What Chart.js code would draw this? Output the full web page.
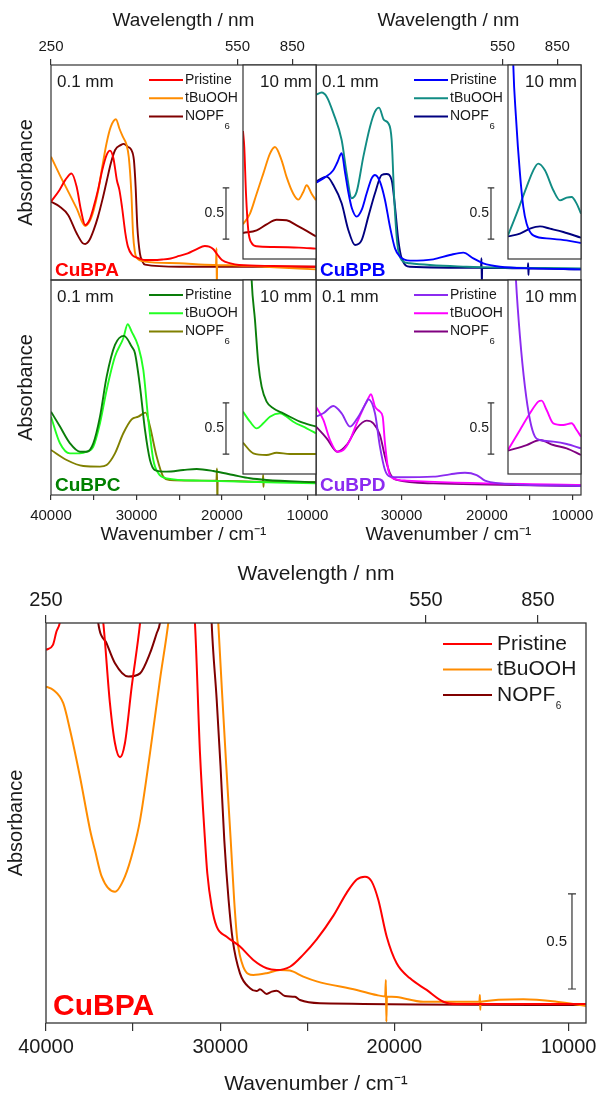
<!DOCTYPE html>
<html>
<head>
<meta charset="utf-8">
<script src="https://cdn.jsdelivr.net/npm/chart.js@4.4.1/dist/chart.umd.min.js"></script>
<style>
html,body{margin:0;padding:0;background:#fff;overflow:hidden;}
#wrap{position:relative;width:598px;height:1095px;overflow:hidden;background:#fff;}
#wrap canvas{position:absolute;}
</style>
</head>
<body>
<div id="wrap"></div>
<script>
// ---------------- DATA (wavenumber cm^-1, absorbance) ----------------
const WN_MIN = 9000, WN_MAX = 40000, INSET_WN_MAX = 17540;
const WN_TICKS = [40000, 35000, 30000, 25000, 20000, 15000, 10000];
const WN_LABELS = [40000, 30000, 20000, 10000];
const WL_LABELS_NM = [250, 550, 850];
const SERIES_NAMES = ['Pristine', 'tBuOOH', 'NOPF₆'];
const BAR_TOP = [19530, 0.40, 0.5];     // wavenumber, lower value, length
const BAR_BIG = [9805, 0.179, 0.5];

// CuBPA 0.1 mm
const A_pristine = [[40000,0.765],[39000,0.88],[38300,0.98],[37600,1.04],[37000,0.91],[36500,0.684],[36000,0.537],[35500,0.586],[35000,0.717],[34500,0.88],[34000,1.075],[33500,1.22],[33100,1.264],[32700,1.19],[32300,0.977],[32000,0.88],[31700,0.717],[31300,0.456],[31000,0.326],[30500,0.244],[30000,0.22],[29000,0.195],[28000,0.195],[27000,0.2],[26000,0.21],[25000,0.235],[24000,0.26],[23000,0.3],[22000,0.332],[21500,0.326],[21000,0.3],[20500,0.244],[20000,0.195],[19000,0.163],[18000,0.147],[14000,0.137],[9000,0.13]];
const A_tBuOOH = [[40000,1.205],[39000,1.03],[38000,0.866],[37000,0.70],[36000,0.528],[35500,0.57],[35000,0.684],[34500,0.863],[34000,1.107],[33500,1.336],[33000,1.498],[32400,1.57],[32000,1.48],[31600,1.40],[31200,1.33],[30900,1.20],[30600,0.85],[30400,0.45],[30200,0.28],[30000,0.22],[29000,0.18],[25000,0.163],[21000,0.147],[20700,0.147],[20640,0.31],[20600,-0.1],[20560,0.147],[15000,0.13],[9000,0.104]];
const A_NOPF6 = [[40000,0.765],[39000,0.717],[38000,0.635],[37000,0.456],[36300,0.36],[36000,0.352],[35500,0.39],[35000,0.489],[34500,0.619],[34000,0.78],[33500,0.96],[33000,1.14],[32500,1.27],[31800,1.32],[31500,1.33],[31000,1.30],[30600,1.27],[30300,1.17],[30100,0.91],[29900,0.52],[29600,0.26],[29300,0.18],[29000,0.15],[25000,0.13],[9000,0.13]];
// CuBPA 10 mm
const A10_pristine = [[17540,1.25],[17390,1.09],[17190,0.64],[16920,0.28],[16530,0.156],[15950,0.124],[14000,0.117],[11000,0.111],[9000,0.101]];
const A10_tBuOOH = [[17540,0.339],[16725,0.443],[15945,0.638],[15165,0.834],[14386,1.03],[13800,1.094],[13021,0.964],[12437,0.80],[11657,0.638],[11072,0.58],[10487,0.655],[10097,0.72],[9512,0.638],[9000,0.573]];
const A10_NOPF6 = [[17540,0.254],[15945,0.28],[14776,0.339],[13606,0.384],[12437,0.378],[11267,0.329],[10097,0.274],[9000,0.221]];

// CuBPB 0.1 mm
const B_pristine = [[40000,0.951],[39000,1.0],[38000,1.07],[37500,1.15],[37000,1.238],[36600,1.05],[36200,0.85],[35800,0.70],[35240,0.619],[34660,0.684],[34070,0.847],[33490,0.993],[33100,1.026],[32520,0.961],[31930,0.782],[31350,0.521],[30760,0.309],[30180,0.228],[29000,0.189],[26280,0.202],[24330,0.244],[22770,0.267],[21600,0.212],[20430,0.163],[18480,0.13],[14580,0.114],[9000,0.104]];
const B_tBuOOH = [[40000,1.808],[39340,1.831],[38750,1.79],[37970,1.63],[37000,1.368],[36410,1.042],[35830,0.798],[35240,0.863],[34460,1.205],[33680,1.498],[33100,1.645],[32630,1.684],[32050,1.563],[31540,1.531],[31150,1.368],[30840,0.782],[30490,0.358],[29980,0.195],[29000,0.163],[22380,0.13],[9000,0.114]];
const B_NOPF6 = [[40000,0.961],[38750,1.01],[37970,0.928],[37000,0.749],[36220,0.489],[35440,0.342],[34660,0.39],[33880,0.619],[33100,0.847],[32320,1.026],[31740,1.036],[31150,0.977],[30760,0.717],[30370,0.39],[29980,0.212],[29000,0.13],[20700,0.12],[20640,0.212],[20600,-0.05],[20560,0.12],[15220,0.114],[15180,0.163],[15150,0.05],[15110,0.114],[9000,0.104]];
// CuBPB 10 mm
const B10_pristine = [[17100,2.6],[16920,1.893],[16610,1.388],[16140,0.834],[15750,0.508],[15360,0.345],[14580,0.231],[12630,0.199],[10680,0.182],[9000,0.156]];
const B10_tBuOOH = [[17540,0.231],[16530,0.443],[15360,0.704],[14580,0.866],[14000,0.932],[13220,0.866],[12240,0.671],[11460,0.573],[10680,0.599],[10100,0.606],[9510,0.541],[9000,0.443]];
const B10_NOPF6 = [[17540,0.221],[16140,0.248],[14970,0.296],[13800,0.319],[12630,0.296],[11070,0.264],[9000,0.208]];

// CuBPC 0.1 mm
const C_pristine = [[40000,0.814],[38950,0.668],[37780,0.505],[36610,0.423],[35830,0.423],[35050,0.505],[34270,0.765],[33490,1.156],[32515,1.466],[31460,1.554],[30565,1.45],[30175,1.384],[29590,1.059],[29006,0.635],[28420,0.342],[27840,0.244],[26470,0.228],[24520,0.244],[22960,0.254],[21010,0.235],[18670,0.195],[16725,0.163],[14776,0.147],[9000,0.124]];
const C_tBuOOH = [[40000,0.765],[38950,0.505],[37780,0.407],[36610,0.407],[35830,0.423],[35050,0.472],[34270,0.70],[33490,1.026],[32515,1.352],[31540,1.531],[31033,1.668],[30565,1.596],[29786,1.45],[29201,1.221],[28616,0.733],[28031,0.342],[27446,0.212],[26472,0.163],[22573,0.14],[9000,0.114]];
const C_NOPF6 = [[40000,0.44],[38170,0.342],[36220,0.283],[34270,0.277],[33490,0.293],[32515,0.407],[31540,0.603],[30565,0.739],[29786,0.765],[28928,0.805],[28421,0.668],[27641,0.375],[26862,0.179],[26082,0.147],[20650,0.14],[20580,0.26],[20540,-0.1],[20500,0.14],[15220,0.13],[15180,0.195],[15150,0.08],[15110,0.13],[9000,0.124]];
// CuBPC 10 mm
const C10_pristine = [[16800,2.6],[16530,1.896],[16140,1.505],[15750,1.081],[15360,0.853],[14776,0.707],[14000,0.642],[12827,0.593],[10877,0.511],[9000,0.463]];
const C10_tBuOOH = [[17540,0.609],[16725,0.511],[15945,0.446],[15165,0.495],[14386,0.56],[13216,0.593],[12437,0.56],[11657,0.511],[10097,0.446],[9000,0.397]];
const C10_NOPF6 = [[17540,0.306],[16335,0.202],[14776,0.186],[13606,0.208],[12047,0.195],[10487,0.195],[9000,0.195]];

// CuBPD 0.1 mm
const D_pristine = [[40000,0.765],[39140,0.798],[37970,0.87],[37000,0.798],[36020,0.668],[35050,0.765],[34070,0.912],[33880,0.935],[33100,0.798],[32520,0.472],[31930,0.244],[31350,0.179],[30180,0.173],[26280,0.179],[24330,0.202],[22570,0.218],[21210,0.195],[20230,0.14],[18480,0.114],[9000,0.088]];
const D_tBuOOH = [[40000,0.863],[39140,0.733],[38360,0.537],[37500,0.423],[36800,0.44],[36020,0.537],[35240,0.70],[34460,0.847],[33880,0.945],[33570,0.984],[33100,0.863],[32520,0.814],[32200,0.765],[31930,0.505],[31540,0.244],[30960,0.163],[29400,0.14],[9000,0.098]];
const D_NOPF6 = [[40000,0.668],[38750,0.554],[37500,0.423],[36410,0.489],[35240,0.651],[34070,0.726],[33290,0.70],[32520,0.586],[31930,0.375],[31350,0.212],[30570,0.147],[26280,0.114],[9000,0.088]];
// CuBPD 10 mm
const D10_pristine = [[17000,2.6],[16610,1.896],[16140,1.342],[15560,0.853],[14970,0.528],[14390,0.365],[13800,0.332],[12240,0.316],[10680,0.293],[9000,0.251]];
const D10_tBuOOH = [[17540,0.235],[16140,0.43],[14970,0.593],[14000,0.707],[13610,0.717],[13020,0.625],[12240,0.495],[11070,0.479],[10100,0.495],[9510,0.43],[9000,0.365]];
const D10_NOPF6 = [[17540,0.228],[15360,0.283],[13800,0.332],[12240,0.283],[10680,0.251],[9000,0.186]];

// CuBPA enlarged (bottom panel)
const BIG_pristine = [[40000,1.963],[39600,1.99],[39400,2.06],[39200,2.11],[38700,2.5],[37600,2.8],[37000,2.3],[36710,2.105],[36330,1.683],[36040,1.472],[35750,1.398],[35470,1.472],[35080,1.77],[34600,2.105],[34200,2.5],[33100,2.8],[32000,2.6],[31450,2.105],[31160,1.42],[30873,0.963],[30740,0.788],[30488,0.612],[30201,0.507],[29627,0.454],[28863,0.402],[28100,0.332],[27330,0.288],[26757,0.279],[25993,0.296],[25230,0.36],[24460,0.44],[23500,0.565],[22740,0.685],[22160,0.755],[21690,0.77],[21300,0.744],[20920,0.647],[20440,0.454],[19870,0.314],[19100,0.235],[18150,0.174],[17190,0.112],[16420,0.10],[9000,0.10]];
const BIG_tBuOOH = [[40000,1.77],[39580,1.753],[39010,1.683],[38620,1.542],[38050,1.296],[37470,1.016],[37190,0.91],[36800,0.77],[36040,0.691],[35470,0.77],[34990,0.91],[34600,1.068],[34030,1.42],[33460,1.805],[32980,2.105],[32500,2.5],[31000,2.8],[30300,2.4],[30110,2.105],[29900,1.75],[29650,1.35],[29397,0.963],[29200,0.65],[29018,0.437],[28674,0.296],[28100,0.253],[27330,0.262],[26567,0.279],[26000,0.276],[25230,0.244],[24460,0.219],[22160,0.174],[21020,0.147],[20530,0.14],[20490,0.226],[20460,0.007],[20430,0.14],[19870,0.137],[18340,0.112],[15120,0.112],[15090,0.147],[15070,0.07],[15050,0.112],[12600,0.125],[10680,0.112],[9000,0.09]];
const BIG_NOPF6 = [[40000,2.8],[37500,2.6],[37000,2.105],[36520,1.998],[36040,1.893],[35280,1.823],[34600,1.84],[34030,1.946],[33650,2.05],[33460,2.105],[33000,2.5],[31000,2.8],[30600,2.4],[30490,2.105],[30200,1.70],[29980,1.35],[29765,0.963],[29520,0.65],[29283,0.437],[28863,0.261],[28289,0.183],[27907,0.168],[27715,0.177],[27330,0.153],[27040,0.165],[26757,0.17],[26280,0.142],[25706,0.138],[25419,0.121],[24271,0.104],[9000,0.095]];

// ---------------- STYLE ----------------
const FONT = "'Liberation Sans', Arial, Helvetica, sans-serif";
const INK = '#1a1a1a', AXIS = '#333333';

const TOP_PANELS = [
  {col:0,row:0,name:'CuBPA',nameColor:'#FF0000',colors:['#FF0000','#FF8C00','#800000'],main:[A_pristine,A_tBuOOH,A_NOPF6],inset:[A10_pristine,A10_tBuOOH,A10_NOPF6]},
  {col:1,row:0,name:'CuBPB',nameColor:'#0000FF',colors:['#0000FF','#118C84','#000080'],main:[B_pristine,B_tBuOOH,B_NOPF6],inset:[B10_pristine,B10_tBuOOH,B10_NOPF6]},
  {col:0,row:1,name:'CuBPC',nameColor:'#008000',colors:['#0A7D0A','#22FF22','#808000'],main:[C_pristine,C_tBuOOH,C_NOPF6],inset:[C10_pristine,C10_tBuOOH,C10_NOPF6]},
  {col:1,row:1,name:'CuBPD',nameColor:'#8B2BF0',colors:['#8B2BF0','#FF00FF','#800080'],main:[D_pristine,D_tBuOOH,D_NOPF6],inset:[D10_pristine,D10_tBuOOH,D10_NOPF6]}
];
const BIG_COLORS = ['#FF0000','#FF8C00','#800000'];

// ---------------- HELPERS ----------------
const wrap = document.getElementById('wrap');
const DECOR = new Map();

function addCanvas(l, t, w, h) {
  const c = document.createElement('canvas');
  c.width = w; c.height = h;
  c.style.left = l + 'px'; c.style.top = t + 'px';
  c.style.width = w + 'px'; c.style.height = h + 'px';
  wrap.appendChild(c);
  return c;
}

function drawLabel(c, text, x, y, size, sub) {
  const m = text.match(/^(.*?)([\u2080-\u2089]+)$/);
  c.fillStyle = INK; c.textAlign = 'left'; c.textBaseline = 'middle';
  c.font = size + 'px ' + FONT;
  if (!m) { c.fillText(text, x, y); return; }
  c.fillText(m[1], x, y);
  const w = c.measureText(m[1]).width;
  const digits = m[2].replace(/[\u2080-\u2089]/g, ch => String(ch.charCodeAt(0) - 0x2080));
  c.font = sub.size + 'px ' + FONT;
  c.fillText(digits, x + w + 0.5, y + sub.dy);
}

const decorPlugin = {
  id: 'decor',
  beforeDatasetsDraw(chart) {
    const o = DECOR.get(chart.canvas);
    if (!o || !o.bg) return;
    const a = chart.chartArea, c = chart.ctx;
    c.save(); c.fillStyle = o.bg;
    c.fillRect(a.left, a.top, a.right - a.left, a.bottom - a.top);
    c.restore();
  },
  afterDatasetsDraw(chart) {
    const o = DECOR.get(chart.canvas);
    if (!o) return;
    const a = chart.chartArea, c = chart.ctx;
    c.save();
    if (o.frame) {
      c.strokeStyle = AXIS; c.lineWidth = o.frame;
      c.strokeRect(a.left, a.top, a.right - a.left, a.bottom - a.top);
    }
    (o.texts || []).forEach(t => {
      c.font = (t.bold ? 'bold ' : '') + t.size + 'px ' + FONT;
      c.fillStyle = t.color || INK;
      c.textAlign = t.align || 'left';
      c.textBaseline = 'alphabetic';
      const x = t.fromRight ? a.right - t.dx : a.left + t.dx;
      const y = t.fromBottom ? a.bottom - t.dy : a.top + t.dy;
      c.fillText(t.text, x, y);
    });
    if (o.legend) {
      const L = o.legend;
      chart.data.datasets.forEach((ds, i) => {
        const y = a.top + L.y0 + i * L.dy;
        const x0 = L.fromRight ? a.right - L.x0 : a.left + L.x0;
        c.strokeStyle = ds.borderColor; c.lineWidth = L.lw;
        c.beginPath(); c.moveTo(x0, y); c.lineTo(x0 + L.len, y); c.stroke();
        drawLabel(c, ds.label, x0 + L.len + L.gap, y, L.size, L.sub);
      });
    }
    if (o.bar) {
      const B = o.bar, xs = chart.scales.x, ys = chart.scales.y;
      const x = xs.getPixelForValue(B.wn);
      const y1 = ys.getPixelForValue(B.low), y2 = ys.getPixelForValue(B.low + B.len);
      c.strokeStyle = AXIS; c.lineWidth = 1.2;
      c.beginPath();
      c.moveTo(x, y1); c.lineTo(x, y2);
      c.moveTo(x - B.cap, y1); c.lineTo(x + B.cap, y1);
      c.moveTo(x - B.cap, y2); c.lineTo(x + B.cap, y2);
      c.stroke();
      c.font = B.size + 'px ' + FONT; c.fillStyle = INK;
      c.textAlign = 'right'; c.textBaseline = 'middle';
      c.fillText(String(B.len), x - B.gap, (y1 + y2) / 2);
    }
    c.restore();
  }
};
Chart.register(decorPlugin);

function makeDatasets(series, colors, lw) {
  return series.map((pts, i) => ({
    label: SERIES_NAMES[i],
    data: pts.map(p => ({x: p[0], y: p[1]})),
    borderColor: colors[i], backgroundColor: colors[i],
    borderWidth: lw, pointRadius: 0, fill: false,
    cubicInterpolationMode: 'monotone', borderJoinStyle: 'round', clip: 0
  }));
}

function bottomAxis(o) {
  return {
    type: 'linear', axis: 'x', position: 'bottom', reverse: true, min: WN_MIN, max: WN_MAX, display: true,
    afterBuildTicks: ax => { ax.ticks = o.ticks.map(v => ({value: v})); },
    afterFit: ax => { ax.height = o.height; },
    ticks: {autoSkip: false, maxRotation: 0, minRotation: 0, padding: o.pad, color: INK,
      font: {family: FONT, size: o.fs}, callback: v => (WN_LABELS.includes(v) ? String(v) : '')},
    grid: {display: true, drawOnChartArea: false, drawTicks: true, tickLength: o.tl, color: AXIS, lineWidth: 1.2},
    border: {display: false},
    title: {display: true, text: 'Wavenumber / cm\u207B\u00B9', color: INK,
      font: {family: FONT, size: o.titleSize}, padding: {top: 0, bottom: o.titlePad}}
  };
}
function topAxis(o) {
  return {
    type: 'linear', axis: 'x', position: 'top', reverse: true, min: WN_MIN, max: WN_MAX, display: true,
    afterBuildTicks: ax => { ax.ticks = o.nm.map(nm => ({value: 1e7 / nm})); },
    afterFit: ax => { ax.height = o.height; },
    ticks: {autoSkip: false, maxRotation: 0, minRotation: 0, padding: o.pad, color: INK,
      font: {family: FONT, size: o.fs}, callback: v => String(Math.round(1e7 / v))},
    grid: {display: true, drawOnChartArea: false, drawTicks: true, tickLength: o.tl, color: AXIS, lineWidth: 1.2},
    border: {display: false},
    title: {display: true, text: 'Wavelength / nm', color: INK,
      font: {family: FONT, size: o.titleSize}, padding: {top: o.titlePad, bottom: 0}}
  };
}
function hiddenX(max) { return {type: 'linear', axis: 'x', reverse: true, min: WN_MIN, max: max, display: false}; }
function yAxis(max, title) {
  if (!title) return {type: 'linear', min: 0, max: max, display: false};
  return {
    type: 'linear', position: 'left', min: 0, max: max, display: true,
    afterFit: ax => { ax.width = title.width; },
    ticks: {display: false}, grid: {display: false}, border: {display: false},
    title: {display: true, text: 'Absorbance', color: INK, font: {family: FONT, size: title.size},
      padding: {top: title.pad, bottom: 0}}
  };
}

function makeChart(canvas, datasets, scales, padding, decor) {
  DECOR.set(canvas, decor);
  return new Chart(canvas, {
    type: 'line',
    data: {datasets},
    options: {
      responsive: false, maintainAspectRatio: false, devicePixelRatio: 1, animation: false, events: [],
      layout: {padding},
      scales,
      plugins: {legend: {display: false}, tooltip: {enabled: false}, title: {display: false}}
    }
  });
}

// ---------------- TOP 2x2 PANELS ----------------
const COL_LEFT = [51, 316], ROW_TOP = [65, 280], PANEL_W = 265, PANEL_H = 215, INSET_W = 73, INSET_H = 194;
const TOP_Y_MAX = 2.1, INSET_Y_MAX = 1.895;

TOP_PANELS.forEach(p => {
  const areaL = COL_LEFT[p.col], areaT = ROW_TOP[p.row];
  const yW = p.col === 0 ? 51 : 0, padL = p.col === 0 ? 0 : 10, padR = 25;
  const topH = p.row === 0 ? 65 : 0, padT = p.row === 0 ? 0 : 10;
  const botH = p.row === 1 ? 52 : 0, padB = p.row === 1 ? 0 : 10;
  const cv = addCanvas(areaL - yW - padL, areaT - topH - padT, padL + yW + PANEL_W + padR, padT + topH + PANEL_H + botH + padB);
  const scales = {
    x: p.row === 1
      ? bottomAxis({ticks: p.col === 0 ? WN_TICKS : WN_TICKS.slice(1), fs: 15, tl: 5, pad: 7, height: 52, titleSize: 19, titlePad: 1})
      : hiddenX(WN_MAX),
    y: yAxis(TOP_Y_MAX, p.col === 0 ? {width: 51, size: 20, pad: 14} : null)
  };
  if (p.row === 0) scales.x2 = topAxis({nm: p.col === 0 ? WL_LABELS_NM : WL_LABELS_NM.slice(1), fs: 15, tl: 6, pad: 3, height: 65, titleSize: 19, titlePad: 9});
  makeChart(cv, makeDatasets(p.main, p.colors, 1.9), scales, {left: padL, right: padR, top: padT, bottom: padB}, {
    frame: 1.2,
    texts: [
      {text: '0.1 mm', dx: 6, dy: 22, size: 17},
      {text: p.name, dx: 4, dy: 4.5, fromBottom: true, size: 19, bold: true, color: p.nameColor}
    ],
    legend: {x0: 98, len: 34, gap: 2, y0: 15, dy: 18.3, size: 14, lw: 2, sub: {size: 9.5, dy: 9.5}},
    bar: {wn: BAR_TOP[0], low: BAR_TOP[1], len: BAR_TOP[2], cap: 3.3, gap: 2, size: 14}
  });
});

// insets (10 mm)
TOP_PANELS.forEach(p => {
  const right = COL_LEFT[p.col] + PANEL_W, top = ROW_TOP[p.row];
  const cv = addCanvas(right - INSET_W - 2, top - 2, INSET_W + 4, INSET_H + 4);
  makeChart(cv, makeDatasets(p.inset, p.colors, 1.9),
    {x: hiddenX(INSET_WN_MAX), y: yAxis(INSET_Y_MAX, null)},
    {left: 2, right: 2, top: 2, bottom: 2},
    {bg: '#ffffff', frame: 1.2, texts: [{text: '10 mm', dx: 4, dy: 22, fromRight: true, align: 'right', size: 17}]});
});

// ---------------- BOTTOM ENLARGED PANEL ----------------
(function () {
  const cv = addCanvas(0, 555, 602, 543);
  makeChart(cv, makeDatasets([BIG_pristine, BIG_tBuOOH, BIG_NOPF6], BIG_COLORS, 2),
    {
      x: bottomAxis({ticks: WN_TICKS, fs: 20, tl: 8, pad: 4, height: 75, titleSize: 21, titlePad: 1}),
      x2: topAxis({nm: WL_LABELS_NM, fs: 20, tl: 8, pad: 3, height: 68, titleSize: 21, titlePad: 7}),
      y: yAxis(2.105, {width: 46, size: 20, pad: 4})
    },
    {left: 0, right: 16, top: 0, bottom: 0},
    {
      frame: 1.3,
      texts: [{text: 'CuBPA', dx: 7, dy: 8, fromBottom: true, size: 30, bold: true, color: '#FF0000'}],
      legend: {x0: 143, fromRight: true, len: 49, gap: 5, y0: 21, dy: 25.5, size: 21, lw: 2.2, sub: {size: 10, dy: 11.5}},
      bar: {wn: BAR_BIG[0], low: BAR_BIG[1], len: BAR_BIG[2], cap: 4, gap: 5, size: 15}
    });
})();
</script>
</body>
</html>
